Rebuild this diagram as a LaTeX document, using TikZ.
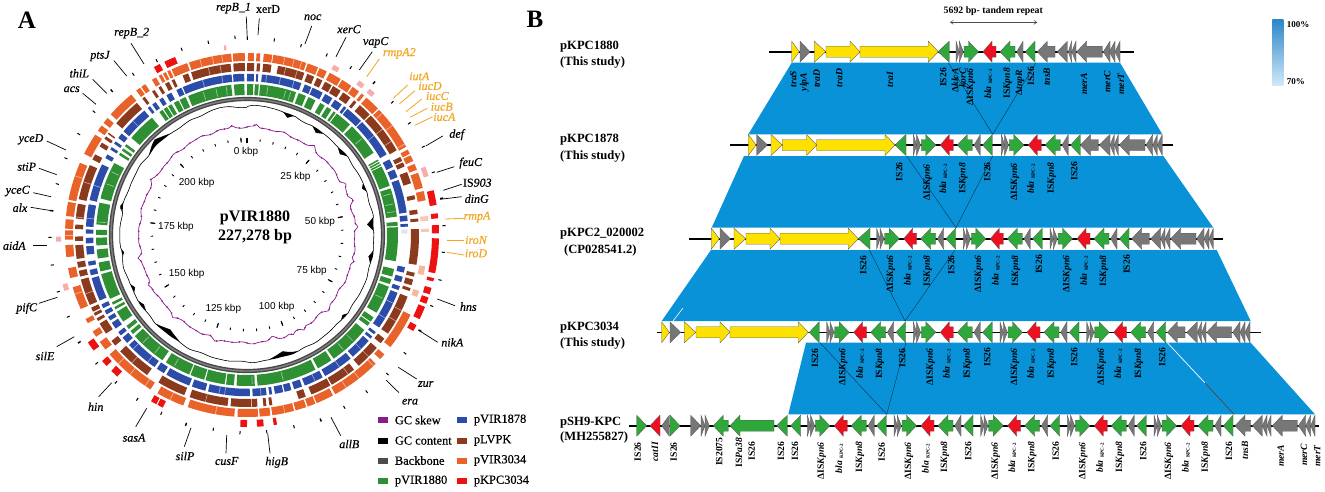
\documentclass[tikz,border=0pt]{standalone}
\usepackage{fontspec}
\setmainfont{Liberation Serif}
\newfontfamily\arialf{Liberation Sans}
\newfontfamily\semif[FakeBold=0.45]{Liberation Serif}
\usetikzlibrary{calc,arrows.meta}
\definecolor{oG}{HTML}{E8622A}\definecolor{brW}{HTML}{8B3A1E}\definecolor{blU}{HTML}{2B4CA8}
\definecolor{grN}{HTML}{2F8F33}\definecolor{reD}{HTML}{EE1111}\definecolor{puR}{HTML}{8B1A8B}
\definecolor{labO}{HTML}{F2A623}\definecolor{bandB}{HTML}{0A92D8}
\definecolor{gY}{HTML}{777777}\definecolor{gG}{HTML}{2EA83A}\definecolor{gR}{HTML}{EE0F1F}\definecolor{yL}{HTML}{FFE100}
\tikzset{
 glab/.style={font=\semif\fontsize{12}{14}\selectfont\itshape,inner sep=0pt},
 olab/.style={glab,text=labO},
 lead/.style={line width=.7pt,black},
 olead/.style={line width=.8pt,labO},
 kb/.style={font=\arialf\fontsize{10}{12}\selectfont,inner sep=0pt},
 leg/.style={font=\semif\fontsize{12.4}{14}\selectfont,inner sep=0pt,anchor=west},
 sw/.style={minimum width=10pt,minimum height=6pt,inner sep=0pt,draw=none},
 trk/.style={font=\bfseries\fontsize{12.6}{15}\selectfont,inner sep=0pt,anchor=west},
 vert/.style={font=\bfseries\fontsize{9.6}{11}\selectfont,inner sep=0pt,rotate=90},
 gbox/.style={draw=black!65,line width=.35pt,line join=miter},
 xline/.style={line width=.35pt,black!70!bandB},
 declare function={
  bp(\t,\c,\w,\h)=\h*max(0,1-abs(\t-\c)/\w);
  skewr(\t)=108+.7*sin(23*\t)+.45*sin(41*\t)+bp(\t,37,2.5,3)+bp(\t,62.5,2,3.5)+bp(\t,71.6,2.5,4)+bp(\t,85.7,2,4)+bp(\t,104,2,3)+bp(\t,132.7,3,3)+bp(\t,149,2,3)+bp(\t,155,2,2.5)+bp(\t,166,3,-3)+bp(\t,197,3,3)+bp(\t,243,2.5,3)+bp(\t,258,2,3)+bp(\t,222,2,2)+bp(\t,300,2,2)+bp(\t,5,2,2.5)+bp(\t,352,2,2);
  gcb(\t)=127+.5*sin(23*\t)+.3*sin(37*\t)+bp(\t,348,16,3)+bp(\t,8,16,3);
  gcp(\t)=bp(\t,316,7,5)+bp(\t,282.5,2,3)+bp(\t,19,2.5,-4)+bp(\t,34,3,-4)+bp(\t,49,3,-4)+bp(\t,68,2,-3)+bp(\t,85,3,-6)+bp(\t,100,3,-4)+bp(\t,130,2,-3)+bp(\t,163,7,-5)+bp(\t,219,7,-5)+bp(\t,236,3,-3)+bp(\t,245,2,-3)+bp(\t,262,1.5,-2);
 }
}
\newcommand{\ringseg}[4]{\foreach \a/\b in {#4}{\draw[#1,line width=#3pt] (\a-90:#2) arc[start angle=\a-90,end angle=\b-90,radius=#2];}}
\newcommand{\slit}[2]{\foreach \a in {#2}{\draw[white,opacity=.5,line width=.7pt] (\a-90:#1-4) -- (\a-90:#1+4);}}
\newcommand{\gl}[8][glab]{\node[#1] at (#2,#3) {#4};\draw[lead] (#5,#6) -- (#7,#8);}
\newcommand{\gol}[7]{\node[olab] at (#1,#2) {#3};\draw[olead] (#4,#5) -- (#6,#7);}
\newcommand{\gtri}[3]{\filldraw[gbox,fill=#1] ({#2},{\ty-10.5}) -- ({#3},\ty) -- ({#2},{\ty+10.5}) -- cycle;}
\newcommand{\garw}[4]{\filldraw[gbox,fill=#1] ({#2},{\ty-5.5}) -- ({(#3)-(#4)},{\ty-5.5}) -- ({(#3)-(#4)},{\ty-10.5}) -- ({#3},\ty) -- ({(#3)-(#4)},{\ty+10.5}) -- ({(#3)-(#4)},{\ty+5.5}) -- ({#2},{\ty+5.5}) -- cycle;}
\newcommand{\gmod}[1]{\gtri{gY}{#1}{#1+3.3}\gtri{gY}{#1+3.3}{#1+7.3}\garw{gG}{#1+8}{#1+22.5}{10}\garw{gR}{#1+40}{#1+27}{-9}\garw{gG}{#1+59}{#1+44}{-10}\gtri{gY}{#1+67}{#1+60.7}\gtri{gG}{#1+79}{#1+69.3}}
\newcommand{\vl}[3]{\node[vert] at (#1,#2) {#3};}
\newcommand{\blaK}{{\itshape bla}\hspace{2.5pt}\raisebox{-1pt}{\fontsize{5}{6}\selectfont KPC-2}}
\newcommand{\dsix}{ΔIS{\itshape Kpn6}}
\newcommand{\ieight}{IS{\itshape Kpn8}}
\begin{document}
\begin{tikzpicture}[x=1pt,y=-1pt]
\useasboundingbox (0,0) rectangle (1325,491);
\fill[white] (0,0) rectangle (1325,491);
% Panel letters
\node[font=\bfseries\fontsize{25}{28}\selectfont,inner sep=0pt] (pa) at (27,20) {A};
\node[font=\bfseries\fontsize{25}{28}\selectfont,inner sep=0pt] (pb) at (535,19) {B};
% Circular map
\begin{scope}[shift={(247,235)}]
\ringseg{oG}{178}{8}{-48.5/-39.5,-37.5/-36,-35.5/-34,-31.5/-30,-29/-28,-27.5/-26.5,-26/-25,-24.5/-19.2,-18.6/-5,-4.5/-0.7,0.3/2.2,3/4.2,5.3/8,8.3/19,19.5/23,23.5/26,27/31,31.5/35,35.5/38,39/40,41/46,46.5/61,62/63.5,64/66,67/69,70/75,76/79,116/128,131/133,135/151,151.8/157.5,157.9/160.5,161/164.5,165/172,172.6/176,176.5/183,-176/-161,-159.5/-150.5,-148/-131,-129/-126,-124/-122,-119/-117.5,-114/-106.7,-103.7/-100.5,-97/-93.2,-91.5/-88.5,-88/-85,-84/-79.5,-78.8/-66.6,-63.5/-56.5,-55/-53,-52/-50}
\ringseg{oG!45!white}{178}{6}{108/110,100/102.8}
\ringseg{oG!35!white}{178}{8}{84/85.5,88/89}
\ringseg{brW}{168}{8}{-49.5/-39.8,-37.5/-36.5,-33.5/-32.5,-31/-30,-28.5/-27,-26/-25,-22/-20,-19/-5.5,-4.6/-0.7,0/2.4,3.3/4.4,5.4/8.2,10.4/19.5,20.5/23,24/26,27/29.5,30/33,34/37,38.5/39.5,41/45.5,46/60.5,63/64.5,65/66.5,68.5/72.5,76.6/78,81.5/83,84.5/85.5,88/100,102.7/104,105/107,108/109,111/125,127/129,131/139.5,141.5/150.5,151/158,160/162.5,171.5/172.5,173.5/174.5,176.5/178.3,-149/-158.6,-160.5/-173.5,-174.5/-181.5,-144.5/-132.5,-130/-128,-125/-121,-120/-119,-118/-117,-116.5/-115,-114/-105,-104/-102,-101/-99,-98/-93.4,-92/-90.5,-88/-86.5,-84.5/-79.5,-78/-66,-64/-62,-59/-57.5,-56/-55,-54/-53.5}
\ringseg{blU}{157.5}{7.5}{-5/-1,0/2.5,3.3/4,5.3/19.7,21/23.5,24/28,29/32,33/36,37/38,38.5/45,45.5/60,62/65,66/69,70/82,83/85,86/87,101.5/103.5,105/107,108.5/110,111/125,127/128,129/130,131/139,140/151,152/159,160/163,164/166.5,167/170,171/172,173/178,-160/-165,-166/-181,-150/-159,-146/-149,-133/-145,-129.5/-132,-127/-128.5,-123/-125.5,-120.5/-122,-118/-119.5,-115.5/-117,-105.5/-114,-102.5/-104.5,-99.5/-101,-94/-97,-91/-93,-88/-89.5,-79/-87,-77.5/-64,-61.5/-60,-58/-57,-55.5/-54.5,-53/-51,-50/-39.5,-38/-37,-36/-34.5,-33/-31.5,-30/-28,-26/-24,-23.5/-5.5}
\ringseg{blU!15!white}{157.5}{6}{88/89.5}
\ringseg{grN}{145.5}{11}{-5/-1,0/2.4,3/4.5,5/19,20/23,24/27,29/31,32/34,35/36,36.5/43,44/57,60/60.6,61/61.6,62/62.6,63/71,72/83,85/86.5,87/100,103/106,107/109,110/121,123/125,125.5/127,129/145,146/152,153/176,177/184,-147.5/-157.5,-158/-163.5,-164/-171.5,-172/-175,-132/-146,-129.5/-131,-127/-128.5,-120.5/-125,-118.5/-119.5,-116.5/-117.5,-105/-115,-100.5/-104,-95.5/-99,-91/-94,-88/-90,-77.6/-86,-76/-61.5,-58/-57,-56/-55,-54/-53,-50/-39,-35.5/-34,-33.5/-32,-31.5/-30,-29/-27,-26.5/-24,-23/-6}
\ringseg{reD}{188.5}{7}{-29/-27,-25.5/-22,76.5/81,83.5/85,87/89.5,91/101.5,103/104,106/108,109/111,112/116,118/120,-124/-127,-131/-133,-135/-137.5,-150/-151.8,-152.2/-154,-178/-180,175/177,171/172}
\ringseg{reD!35!white}{188.5}{5}{-7/-6.3,27/29,36/38,40/42,69/72,-90.5/-92,-105/-107}
\slit{178}{-15,-11,-8,12,15,17.5,60,53,48,136,142,147,168,-140,-146,-155,-170,-71,-90,-109,-135}
\slit{168}{-13,-9,13,17,52,57,116,120,135,144,-166,-138,-72,-110,-84}
\slit{157.5}{-16,-9,7,12,17,52,115,121,135,145,155,175,-135,-142,-170,-172,-72,-84,-45}
\slit{145.5}{-17,-12,-8,8,15,17,50,74,78,81,115,135,140,166,178,-151,-136,-142,-65,-70,-85}
% backbone
\draw[black!72,line width=4.2pt] (0,0) circle[radius=136];
\draw[black!50,line width=1.4pt] (0,0) circle[radius=136];
% GC content
\fill[black] plot[domain=0:360,samples=361] ({\x-90}:{gcb(\x)+gcp(\x)}) -- plot[domain=360:0,samples=361] ({\x-90}:{gcb(\x)}) -- cycle;
\draw[black,line width=.55pt] plot[domain=0:360,samples=361] ({\x-90}:{gcb(\x)+gcp(\x)});
% GC skew
\draw[puR,line width=.7pt] plot[domain=0:360,samples=361] ({\x-90}:{skewr(\x)});
\foreach \k in {0,4,...,356}{\fill[puR] ({\k-90}:{skewr(\k)}) circle[radius=.9];}
% inner ticks
\foreach \k in {0,...,45}{\draw[black,line width=.9pt] ({\k*7.92-90}:94) -- ({\k*7.92-90}:96.5);}
\foreach \k in {0,5,...,45}{\draw[black,line width=1.1pt] ({\k*7.92-90}:92.5) -- ({\k*7.92-90}:97.5);}
\end{scope}
% outer ticks
\foreach \px/\py/\w in {235/37.3/1,247.3/38.3/1,208.3/42.3/1,181.7/49.3/1,156.7/60.7/1,133.3/74.3/1,111.7/90.7/1.4,94/111.7/1,78.7/134/1,66/158.3/1,57.3/184/1,51.7/210.7/1.4,50/237.3/1,274.3/40/1,301/45.7/1,326.7/55/1,350.7/67.7/1,374/82.7/1.4,392.3/102.3/1,409.3/123.3/1,423.3/146.7/1,433.3/172.3/1,441.7/198.3/1.4,444/225.7/1,443.3/252.3/1,440/280/1,431.7/306/1,420/330.7/1.4,405/353.3/1,387.3/374/1,366.7/391.7/1,344.3/407.3/1,320.7/420/1.4,294/426.7/1,266.7/431.7/1,240/432.7/1,213.3/429.3/1,186/424.3/1.4,161.3/413.3/1,137.3/399.3/1,116/382.3/1,96.7/363.3/1,79.3/342.3/1.4,68.3/316.7/1,58.3/291.7/1,52.3/265/1}
 {\draw[black,line width=\w pt] ($(\px,\py)!-1.6pt!(247,235)$) -- ($(\px,\py)!1.6pt!(247,235)$);}
% Centre title and kbp labels
\node[font=\bfseries\fontsize{16}{18}\selectfont,inner sep=0pt] (t1) at (255,218) {pVIR1880};
\node[font=\bfseries\fontsize{16}{18}\selectfont,inner sep=0pt] (t2) at (255,237) {227,278 bp};
\node[kb] at (246,152) {0 kbp};
\node[kb] at (295.5,177) {25 kbp};
\node[kb] at (320,221.7) {50 kbp};
\node[kb] at (311.7,271) {75 kbp};
\node[kb] at (276.7,306.7) {100 kbp};
\node[kb] at (223.3,309) {125 kbp};
\node[kb] at (186.7,274.3) {150 kbp};
\node[kb] at (176,226.7) {175 kbp};
\node[kb] at (196.7,182.7) {200 kbp};
% Gene labels with leaders
\gl{233.5}{8}{repB\_1}{246.3}{16.7}{247.3}{39}
\gl{268}{9}{\upshape xerD}{259.3}{18.3}{258}{35}
\gl{131.7}{33}{repB\_2}{131}{43.3}{144}{64}
\gl{100}{56}{ptsJ}{114}{60.7}{126.7}{76}
\gl{79.3}{73.3}{thiL}{92.7}{79.3}{106.7}{93.3}
\gl{71.7}{89.3}{acs}{82.7}{93.3}{96}{104.3}
\gl{31}{139.3}{yceD}{46.7}{141}{66}{150}
\gl{26.7}{166.7}{stiP}{39}{168.3}{56.7}{174.7}
\gl{17.7}{191}{yceC}{33.3}{192.7}{51}{196.7}
\gl{20}{207.7}{alx}{30.7}{207.3}{53.3}{211}
\gl{14.3}{245.7}{aidA}{33.3}{245}{47.3}{245}
\gl{312.7}{17.3}{noc}{311.7}{26}{305}{44}
\gl{349}{29.3}{xerC}{346}{37.3}{336}{56.7}
\gl{375.7}{42.3}{vapC}{372.3}{51.7}{359.3}{70}
\gl{456.7}{134.7}{def}{442.7}{136}{425.7}{146}
\gl{470.7}{163}{feuC}{454.3}{166.7}{436.7}{172.3}
\gl{477.3}{182.7}{\upshape IS{\itshape 903}}{461.7}{184.3}{443.3}{190.3}
\gl{476.7}{198.7}{dinG}{461.7}{196.7}{440}{199.3}
\gl{468.3}{306.7}{hns}{455}{305.7}{437.3}{299}
\gl{452.3}{342.3}{nikA}{437.7}{342.3}{418.3}{330}
\gl{425.7}{384}{zur}{416.7}{379}{398.3}{367.3}
\gl{410}{401.7}{era}{399}{392.7}{386}{380}
\gl{349.3}{444}{allB}{340.7}{435.7}{331}{417.3}
\gl{276.7}{462.3}{higB}{270}{453.3}{267.7}{433.3}
\gl{226.7}{461}{cusF}{226}{453.3}{226.7}{435}
\gl{185}{456}{silP}{184.3}{446.7}{191}{427.7}
\gl{134}{437.7}{sasA}{135.7}{426.7}{146.7}{408.3}
\gl{95.7}{406.7}{hin}{98.7}{396.7}{111.7}{382.7}
\gl{45}{356}{silE}{56.7}{346.7}{74.3}{336.7}
\gl{26.7}{308.3}{pifC}{39}{303.3}{57.3}{297.3}
\gol{399.3}{53.3}{rmpA2}{379.3}{59}{366.7}{76.7}
\gol{419.3}{76.3}{iutA}{407.7}{85}{393.3}{98.3}
\gol{430}{86}{iucD}{415}{90.7}{399.3}{104}
\gol{437.3}{96}{iucC}{421.7}{99}{406}{111.7}
\gol{441.7}{106.7}{iucB}{427.3}{108.3}{410}{117.3}
\gol{444.3}{117}{iucA}{432.7}{116.7}{415}{125.3}
\gol{477}{217}{rmpA}{464}{218.3}{445}{219}
\gol{476}{240}{iroN}{464}{240}{446.7}{240}
\gol{476}{253.3}{iroD}{464}{255}{446.7}{252.3}
% Legend
\foreach \sx/\sy/\c/\t in {383.3/420/puR/GC skew,383.3/440.5/black/GC content,383.3/460.5/black!70/Backbone,383.3/481/grN/pVIR1880,462.3/420/blU/pVIR1878,462.3/440.5/brW/pLVPK,462.3/460.5/oG/pVIR3034,462.3/481/reD/pKPC3034}
 {\node[sw,fill=\c] at (\sx,\sy) {};\node[leg] at ({\sx+11.4},\sy) {\t};}
% Part B: homology bands
\fill[bandB] (791.7,62.7) -- (1120,62.7) -- (1162.3,134.3) -- (748.3,134.3) -- cycle;
\fill[bandB] (744,156) -- (1163.3,156) -- (1213.3,227.7) -- (711.7,227.7) -- cycle;
\fill[bandB] (711,250) -- (1216.7,250) -- (1250.7,321) -- (661.7,321) -- cycle;
\fill[bandB] (806,342.7) -- (1250.7,342.7) -- (1315,414.3) -- (788.3,414.3) -- cycle;
\draw[white,line width=.6pt] (683,308) -- (673,321);
\coordinate (x1a) at (948.3,62.7);\coordinate (x1b) at (1036,62.7);\coordinate (x1c) at (992.7,134.3);
\coordinate (x2a) at (906.7,156);\coordinate (x2b) at (992.7,156);\coordinate (x2c) at (956,227.7);
\coordinate (x3a) at (869.3,250);\coordinate (x3b) at (955,250);\coordinate (x3c) at (905,321);
\coordinate (x4a) at (820,342.7);\coordinate (x4b) at (906,342.7);\coordinate (x4c) at (886.7,414.3);
\draw[xline] (x1a) -- (x1c) -- (x1b);
\draw[xline] (x2a) -- (x2c) -- (x2b);
\draw[xline] (x3a) -- (x3c) -- (x3b);
\draw[xline] (x4a) -- (x4c) -- (x4b);
\draw[white,line width=.7pt] (1167.3,342.7) -- (1205,383);
\draw[black!60!orange,line width=.5pt] (1205,383) -- (1234,414.3);
% Track 1
\def\ty{51.7}
\draw[black,line width=1.6pt] (769,\ty) -- (1134,\ty);
\gtri{yL}{791.7}{799.3}\gtri{gY}{800}{810}\gtri{yL}{814.3}{825.7}\garw{yL}{826}{860}{10}\garw{yL}{860}{938.3}{10}\gtri{gG}{949.3}{938}
\gmod{956}
\garw{gY}{1055}{1037.3}{-10}\gtri{gY}{1067.3}{1057.3}\gtri{gY}{1071.7}{1068.3}\gtri{gY}{1076}{1071.7}\garw{gY}{1102.3}{1076.7}{-10}\gtri{gY}{1110}{1103.3}\gtri{gY}{1115}{1109.3}\gtri{gY}{1120}{1115}
% Track 2
\def\ty{145}
\draw[black,line width=1.6pt] (730,\ty) -- (1173.3,\ty);
\gtri{yL}{748.3}{756}\gtri{gY}{756.7}{767.3}\gtri{yL}{771}{782.3}\garw{yL}{782.3}{816.7}{10}\garw{yL}{816.7}{895}{10}\gtri{gG}{906}{895}
\gmod{913.3}\gmod{1001.3}
\garw{gY}{1098.3}{1080.5}{-10}\gtri{gY}{1110}{1099.3}\gtri{gY}{1114.3}{1110}\gtri{gY}{1118.3}{1114.3}\garw{gY}{1145}{1119.3}{-10}\gtri{gY}{1152.7}{1146}\gtri{gY}{1157.3}{1152.7}\gtri{gY}{1162.3}{1157.3}
% Track 3
\def\ty{238.7}
\draw[black,line width=1.6pt] (689.3,\ty) -- (1222.7,\ty);
\gtri{yL}{711.3}{719.3}\gtri{gY}{720}{730.3}\gtri{yL}{734}{745.7}\garw{yL}{746}{780}{10}\garw{yL}{780}{858.3}{10}\gtri{gG}{870}{858.3}
\gmod{876.7}\gmod{963.3}\gmod{1050}
\garw{gY}{1149.3}{1131.7}{-10}\gtri{gY}{1160.7}{1150.7}\gtri{gY}{1165}{1160.7}\gtri{gY}{1170}{1165}\garw{gY}{1196}{1170.7}{-10}\gtri{gY}{1204}{1196.7}\gtri{gY}{1209}{1204}\gtri{gY}{1213.3}{1209}
% Track 4
\def\ty{332.3}
\draw[black,line width=1.6pt] (657.3,\ty) -- (1260.7,\ty);
\gtri{yL}{661.7}{669.3}\gtri{gY}{670}{680.7}\gtri{yL}{684.3}{695.7}\garw{yL}{696}{730}{10}\garw{yL}{730}{808.3}{10}\gtri{gG}{819.3}{809.3}
\gmod{826.7}\gmod{913.3}\gmod{1000}\gmod{1086.7}
\garw{gY}{1185}{1167.3}{-10}\gtri{gY}{1197.3}{1186.7}\gtri{gY}{1201.7}{1197.3}\gtri{gY}{1206}{1201.7}\garw{gY}{1231.7}{1206.7}{-10}\gtri{gY}{1240}{1232.7}\gtri{gY}{1245}{1240}\gtri{gY}{1250}{1245}
% Track 5
\def\ty{425.7}
\draw[black,line width=1.6pt] (629,\ty) -- (1319.3,\ty);
\gtri{gG}{636.7}{646.7}\gtri{gR}{660}{650}\gtri{gY}{669.3}{661.7}\gtri{gG}{670}{680}\gtri{gY}{690.7}{700.7}\gtri{gY}{701}{705}\gtri{gY}{705}{709.3}\garw{gG}{728.3}{713.3}{-10}\garw{gG}{774}{730}{-10}\gtri{gG}{787.3}{776.7}\gtri{gG}{800.7}{790.7}
\gmod{807.3}\gmod{894}\gmod{980.7}\gmod{1067.3}\gmod{1154}
\garw{gY}{1250.7}{1235}{-10}\gtri{gY}{1262.3}{1252.3}\gtri{gY}{1267}{1262.3}\gtri{gY}{1271}{1267}\garw{gY}{1297.3}{1272.3}{-10}\gtri{gY}{1305.7}{1298.3}\gtri{gY}{1310.7}{1305.7}\gtri{gY}{1315}{1310.7}
% Track names
\node[trk] at (560,46.7) {pKPC1880};\node[trk] at (560,62.7) {(This study)};
\node[trk] at (560,140) {pKPC1878};\node[trk] at (560,156) {(This study)};
\node[trk] at (560,234) {pKPC2\_020002};\node[trk] at (564,250) {(CP028541.2)};
\node[trk] at (560,327.3) {pKPC3034};\node[trk] at (560,343.3) {(This study)};
\node[trk] at (560,422.7) {pSH9-KPC};\node[trk] at (560,437.3) {(MH255827)};
% Gene names, track 1
\vl{793.3}{79}{\itshape traS}\vl{804.3}{82}{\itshape ylpA}\vl{816.7}{78.7}{\itshape traD}\vl{839.3}{78}{\itshape traD}\vl{890}{79.7}{\itshape traI}\vl{943.3}{77.5}{IS26}\vl{955}{80.5}{Δ{\itshape klcA}}\vl{962.7}{78}{\itshape korC}\vl{971}{87}{\dsix}\vl{988.3}{84}{\blaK}\vl{1007.7}{83.3}{\ieight}\vl{1020}{82.5}{Δ{\itshape tnpR}}\vl{1031}{76.3}{IS26}\vl{1046.7}{76.7}{\itshape tnsB}\vl{1084}{83.8}{\itshape merA}\vl{1107.3}{81.7}{\itshape merC}\vl{1121}{84}{\itshape merT}
% Track 2 labels
\vl{899.3}{171.7}{IS26}\vl{927.7}{182.5}{\dsix}\vl{943.3}{179}{\blaK}\vl{963.3}{178.3}{\ieight}\vl{987.3}{171.7}{IS26}\vl{1015}{182}{\dsix}\vl{1031}{179}{\blaK}\vl{1051.7}{178}{\ieight}\vl{1074.3}{171}{IS26}
% Track 3 labels
\vl{863.3}{265}{IS26}\vl{891}{274}{\dsix}\vl{907.7}{271}{\blaK}\vl{927.7}{271}{\ieight}\vl{951.3}{264.7}{IS26}\vl{979}{274}{\dsix}\vl{995.7}{271}{\blaK}\vl{1016}{271}{\ieight}\vl{1039}{264.5}{IS26}\vl{1067.3}{274}{\dsix}\vl{1084}{271}{\blaK}\vl{1104}{271}{\ieight}\vl{1126.7}{264.5}{IS26}
% Track 4 labels
\vl{815}{358.3}{IS26}\vl{843.3}{367}{\dsix}\vl{860}{364}{\blaK}\vl{880}{363.7}{\ieight}\vl{902.3}{358}{IS26}\vl{930.7}{367}{\dsix}\vl{946.7}{364}{\blaK}\vl{967.7}{363.7}{\ieight}\vl{987.3}{357}{IS26}\vl{1015}{367}{\dsix}\vl{1031}{364}{\blaK}\vl{1051.7}{363.7}{\ieight}\vl{1074.3}{357}{IS26}\vl{1101.7}{367}{\dsix}\vl{1118.3}{364}{\blaK}\vl{1139}{363.7}{\ieight}\vl{1162.3}{357}{IS26}
% Track 5 labels
\vl{637.7}{451.7}{IS26}\vl{655}{451.7}{\itshape catII}\vl{673.7}{451.7}{IS26}\vl{719.3}{451.7}{IS2075}\vl{739}{452.7}{IS{\itshape Pa38}}\vl{751.7}{451}{IS26}\vl{781}{451}{IS26}\vl{795}{451}{IS26}
\vl{821.7}{461}{\dsix}\vl{839.3}{458.7}{\blaK}\vl{860}{457}{\ieight}\vl{881.7}{452}{IS26}\vl{909}{461}{\dsix}\vl{925.7}{458.7}{\blaK}\vl{945}{457}{\ieight}\vl{968.3}{451}{IS26}\vl{995.7}{461}{\dsix}\vl{1012.3}{458}{\blaK}\vl{1032.3}{457}{\ieight}\vl{1055.7}{451}{IS26}\vl{1083.3}{461}{\dsix}\vl{1100}{458}{\blaK}\vl{1120}{457}{\ieight}\vl{1143.3}{451}{IS26}\vl{1169}{461}{\dsix}\vl{1185.7}{458}{\blaK}\vl{1205.7}{457}{\ieight}\vl{1229}{451}{IS26}\vl{1245}{450}{\itshape tnsB}\vl{1280.7}{456}{\itshape merA}\vl{1304}{455}{\itshape merC}\vl{1317.3}{456}{\itshape merT}
% Tandem repeat
\node[font=\bfseries\fontsize{9.8}{11}\selectfont,inner sep=0pt] (tand) at (993.3,10.7) {5692 bp- tandem repeat};
\coordinate (ta) at (950,22.3);\coordinate (tb) at (1037.3,22.3);
\draw[black!70,line width=.5pt,{Straight Barb[length=3pt,width=4pt]}-{Straight Barb[length=3pt,width=4pt]}] (ta) -- (tb);
% Identity scale
\shade[top color={rgb,255:red,43;green,134;blue,200},bottom color={rgb,255:red,207;green,233;blue,248}] (1272.3,19) rectangle (1283.3,85);
\node[font=\bfseries\fontsize{9}{10}\selectfont,inner sep=0pt,anchor=west] (p100) at (1286.7,25) {100\%};
\node[font=\bfseries\fontsize{9}{10}\selectfont,inner sep=0pt,anchor=west] (p70) at (1286.7,81.7) {70\%};
\end{tikzpicture}
\end{document}
